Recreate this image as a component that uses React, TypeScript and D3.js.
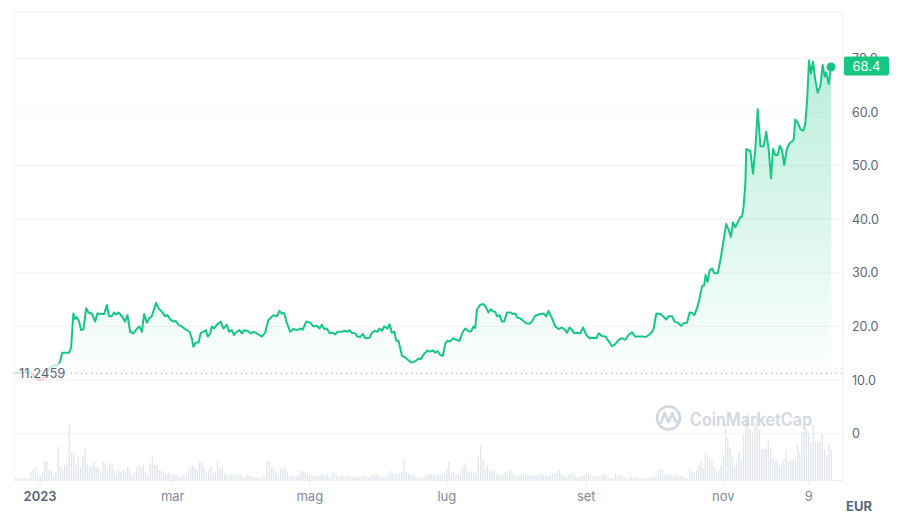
import React, { useEffect, useRef } from "react";
import * as d3 from "d3";

const yearStart = Date.UTC(2023, 0, 1);
const DAY = 864e5;

// price samples: days after 1 Jan 2023 and price in EUR
const priceDays = [
  -11.6, -8.9, -5.8, -4.0, -2.2, -0.4, 1.3, 2.7, 4.0, 6.2,
  8.0, 8.9, 9.8, 12.9, 13.8, 14.8, 15.6, 16.3, 17.4, 18.2,
  19.3, 20.5, 21.5, 23.0, 24.5, 25.5, 27.5, 28.5, 29.7, 30.7,
  31.9, 32.9, 33.8, 34.9, 36.4, 37.8, 38.9, 40.1, 41.5, 43.0,
  44.2, 45.3, 46.3, 47.5, 48.6, 49.7, 51.6, 52.7, 54.2, 55.6,
  56.7, 57.9, 59.3, 60.4, 61.6, 63.1, 64.5, 66.5, 67.5, 68.2,
  69.3, 70.5, 71.5, 72.7, 73.8, 74.6, 75.7, 76.4, 77.4, 78.6,
  80.4, 81.6, 83.1, 84.1, 85.3, 86.3, 87.5, 88.7, 89.8, 90.8,
  92.3, 93.8, 95.2, 96.7, 98.7, 100.1, 101.6, 103.8, 105.4, 106.5,
  107.6, 108.6, 109.8, 111.3, 112.7, 114.3, 115.7, 116.9, 118.4, 120.2,
  121.6, 123.2, 124.3, 125.4, 126.4, 127.6, 128.8, 130.3, 131.3, 132.3,
  134.3, 135.8, 136.8, 137.7, 138.7, 140.2, 141.2, 142.4, 143.6, 144.7,
  146.6, 147.6, 149.1, 150.1, 151.0, 152.1, 153.1, 154.6, 155.5, 156.5,
  157.6, 158.5, 159.5, 161.0, 162.5, 163.9, 165.4, 166.9, 168.4, 169.4,
  170.9, 172.4, 173.6, 174.8, 175.8, 176.8, 178.0, 179.2, 180.3, 181.3,
  182.5, 183.7, 185.2, 186.6, 188.1, 189.2, 190.6, 191.8, 192.9, 193.6,
  194.4, 195.8, 197.0, 198.1, 199.5, 200.6, 201.5, 202.5, 203.3, 204.4,
  205.5, 206.5, 207.7, 209.2, 210.4, 211.4, 212.2, 213.6, 214.8, 216.3,
  217.8, 218.8, 220.3, 222.5, 224.0, 225.2, 226.2, 227.8, 229.2, 230.7,
  232.2, 233.7, 234.4, 235.6, 236.7, 237.7, 239.1, 240.3, 241.6, 243.0,
  244.5, 246.3, 247.5, 248.5, 250.0, 251.5, 252.9, 254.5, 255.9, 257.4,
  258.9, 260.4, 261.8, 263.4, 264.8, 267.1, 268.5, 269.3, 270.8, 272.3,
  273.0, 274.2, 276.0, 277.4, 278.6, 279.7, 281.2, 282.3, 283.7, 285.2,
  286.3, 287.8, 289.0, 290.1, 291.1, 292.3, 293.4, 294.5, 295.5, 296.1,
  297.0, 297.9, 299.0, 300.0, 301.5, 302.7, 304.1, 305.3, 306.4, 307.4,
  308.3, 309.3, 310.5, 311.6, 312.3, 313.0, 313.8, 314.2, 315.3, 316.0,
  317.2, 318.2, 319.3, 320.5, 321.9, 323.1, 324.2, 325.2, 326.1, 327.1,
  328.2, 329.1, 330.1, 331.1, 332.3, 333.5, 334.6, 335.3, 336.0, 337.1,
  338.3, 339.5, 340.4, 341.3, 342.1, 343.0, 343.9, 344.9, 346.0, 347.2,
  348.2, 349.1, 349.8, 350.9, 351.9,
];

const prices = [
  11.25, 11.4, 11.5, 11.3, 10.6, 10.0, 10.1, 10.9, 12.2, 12.8,
  12.8, 13.4, 15.1, 15.1, 16.0, 22.4, 21.4, 21.7, 20.9, 19.3,
  19.5, 23.4, 22.6, 22.4, 20.9, 22.4, 22.3, 22.3, 24.0, 21.9,
  21.9, 22.6, 22.2, 22.6, 21.9, 20.9, 22.1, 19.0, 18.7, 19.5,
  20.0, 19.0, 22.3, 20.7, 21.5, 21.9, 24.4, 23.4, 22.7, 21.9,
  22.1, 21.3, 20.9, 21.0, 20.3, 20.0, 19.5, 19.0, 17.8, 16.2,
  17.0, 17.0, 18.8, 19.0, 19.3, 18.1, 18.7, 20.0, 19.6, 20.3,
  20.9, 19.6, 20.3, 19.0, 19.3, 18.4, 19.0, 19.3, 18.7, 19.3,
  19.2, 18.7, 19.0, 18.6, 18.1, 18.8, 21.2, 22.1, 21.9, 22.9,
  22.4, 22.5, 20.6, 19.0, 19.5, 19.3, 19.6, 19.4, 20.9, 20.7,
  20.0, 20.1, 19.6, 20.3, 19.5, 19.6, 18.7, 18.8, 18.5, 19.0,
  19.0, 19.2, 19.0, 19.3, 18.8, 18.7, 18.1, 18.0, 18.6, 17.8,
  17.9, 18.8, 19.2, 19.0, 19.6, 19.2, 20.0, 19.6, 20.4, 18.8,
  19.0, 17.3, 17.3, 14.5, 14.2, 13.7, 13.2, 13.5, 14.0, 13.9,
  14.9, 15.5, 15.3, 15.5, 15.1, 15.4, 14.7, 14.5, 16.8, 17.3,
  17.2, 17.8, 17.5, 17.3, 19.0, 19.6, 19.1, 19.1, 20.0, 19.7,
  23.2, 24.0, 24.2, 23.8, 22.6, 23.2, 22.8, 22.7, 21.9, 22.1,
  20.9, 20.9, 22.6, 22.6, 22.3, 22.4, 21.7, 21.5, 21.1, 20.6,
  20.5, 20.9, 22.0, 22.3, 22.4, 21.9, 22.9, 21.5, 20.0, 19.5,
  19.8, 19.3, 18.8, 19.8, 19.3, 18.7, 18.8, 18.7, 19.8, 18.4,
  17.8, 17.9, 17.8, 18.7, 18.2, 18.1, 17.3, 16.3, 16.7, 17.5,
  17.8, 17.5, 18.4, 18.9, 18.1, 18.1, 18.1, 18.0, 18.4, 19.0,
  19.6, 22.4, 22.3, 21.8, 21.3, 21.9, 21.9, 20.9, 20.7, 20.1,
  20.6, 20.7, 22.6, 22.5, 22.1, 23.4, 25.2, 27.5, 27.7, 29.6,
  28.3, 30.5, 30.8, 29.9, 29.9, 32.4, 36.1, 39.1, 38.0, 36.7,
  39.4, 38.5, 39.5, 40.4, 40.5, 42.3, 46.7, 53.1, 52.8, 52.8,
  48.5, 52.9, 60.5, 53.6, 53.6, 56.3, 52.9, 47.6, 53.1, 52.0,
  52.0, 53.7, 52.9, 50.1, 53.2, 54.2, 54.5, 54.9, 58.6, 58.0,
  56.8, 56.5, 57.6, 62.3, 69.6, 67.2, 69.4, 66.0, 63.6, 64.9,
  68.8, 66.6, 67.4, 65.2, 68.4,
];

const openPrice = 11.2459;
const lastPrice = 68.4;

// daily volume (relative units), first bar on 21 Dec 2022
const volumeStartDay = -11;
const volumes = [
  5, 4, 5, 4, 5, 3, 6,
  25, 35, 40, 15, 10, 25, 55, 55, 30, 25,
  10, 25, 100, 40, 30, 45, 50, 165, 80, 80,
  45, 70, 40, 70, 95, 50, 45, 40, 55, 40,
  35, 20, 55, 50, 30, 45, 50, 30, 15, 30,
  25, 30, 25, 40, 30, 15, 25, 35, 45, 40,
  45, 25, 15, 50, 72, 45, 45, 30, 28, 25,
  20, 25, 15, 15, 12, 15, 8, 10, 12, 15,
  25, 35, 45, 35, 30, 55, 55, 40, 20, 30,
  40, 20, 25, 55, 35, 38, 20, 15, 12, 15,
  15, 18, 12, 20, 10, 8, 18, 12, 12, 8,
  8, 6, 5, 12, 10, 55, 58, 40, 35, 25,
  15, 38, 35, 38, 25, 12, 10, 12, 12, 15,
  30, 25, 25, 15, 18, 15, 12, 15, 12, 18,
  15, 12, 20, 8,
  25, 20, 15, 10, 15, 12, 10, 15, 12, 8,
  8, 10, 10, 12, 15, 10, 8, 8, 15, 12,
  18, 12, 10, 12, 8, 15, 28, 20, 18, 15,
  20, 25, 60, 20, 18, 15, 18, 12, 10, 8,
  8, 12, 15, 18, 15, 18, 12, 15, 15, 15,
  15, 35, 55, 20, 25, 15, 15, 15, 40, 50,
  30, 20, 25, 20, 25, 70, 105, 60, 30, 45,
  30, 25, 28, 20, 15, 12, 15, 25, 15, 32,
  25, 15, 12, 15, 18, 18, 15, 15, 15, 12,
  15, 12, 22, 18, 15, 12, 10, 15, 18, 20,
  22, 28, 18, 12, 10, 15, 18, 20, 12, 8,
  10, 12, 12, 22, 18, 15, 12, 10, 12, 8,
  12, 18, 15,
  5, 5, 5, 18, 15, 15, 12, 8, 5, 5,
  12, 10, 10, 8, 5, 5, 5, 5, 8, 8,
  12, 10, 28, 32, 30, 18, 15, 18, 12, 8,
  15, 12, 12, 12, 8, 5, 35, 25, 22, 30,
  45, 58, 35, 78, 72, 70, 55, 40, 25, 30,
  45, 75, 168, 125, 95, 70, 40, 50, 85, 60,
  135, 190, 200, 150, 140, 170, 195, 150, 92, 92,
  95, 115, 95, 65, 55, 60, 40, 55, 65, 90,
  55, 60, 62, 62, 105, 80, 145, 145, 155, 140,
  110, 165, 115, 115, 118, 135, 90, 75, 108, 92,
];

const priceTicks = [0, 10, 20, 30, 40, 50, 60, 70];
const timeTicks = ["2023-01-01", "2023-03-01", "2023-05-01", "2023-07-01", "2023-09-01", "2023-11-01", "2023-12-09"];
const timeTickLabels = ["2023", "mar", "mag", "lug", "set", "nov", "9"];

const GREEN = "#16c784";
const RED = "#ea3943";

const toDate = (d: number) => new Date(yearStart + d * DAY);

const App: React.FC = () => {
  const svgRef = useRef<SVGSVGElement>(null);

  useEffect(() => {
    if (!svgRef.current) return;

    const width = 900;
    const height = 524;
    const margin = { top: 12, right: 57, bottom: 44, left: 14 };
    const plotRight = width - margin.right;
    const plotBottom = height - margin.bottom;
    const font = "Inter, 'Noto Sans', sans-serif";

    const svg = d3.select(svgRef.current);
    svg.selectAll("*").remove();
    svg.attr("width", width).attr("height", height).attr("viewBox", `0 0 ${width} ${height}`);

    const data = priceDays.map((d, i) => ({ date: toDate(d), price: prices[i] }));

    const x = d3
      .scaleUtc()
      .domain(d3.extent(data, (d) => d.date) as [Date, Date])
      .range([margin.left, plotRight - 12]);

    const y = d3.scaleLinear().domain([0, 70]).range([433.6, 58.4]);

    const vol = d3.scaleLinear().domain([0, 200]).range([plotBottom, plotBottom - 67]);

    const defs = svg.append("defs");

    const areaGrad = defs
      .append("linearGradient")
      .attr("id", "areaFill")
      .attr("gradientUnits", "userSpaceOnUse")
      .attr("x1", 0)
      .attr("x2", 0)
      .attr("y1", y(70))
      .attr("y2", y(openPrice));
    areaGrad.append("stop").attr("offset", 0).attr("stop-color", GREEN).attr("stop-opacity", 0.3);
    areaGrad.append("stop").attr("offset", 1).attr("stop-color", GREEN).attr("stop-opacity", 0.01);

    // line fades out near the opening price, red below it
    const ya = y(13.3);
    const yb = y(12.9);
    const yc = y(openPrice);
    const ye = y(8);
    const lineGrad = defs
      .append("linearGradient")
      .attr("id", "lineStroke")
      .attr("gradientUnits", "userSpaceOnUse")
      .attr("x1", 0)
      .attr("x2", 0)
      .attr("y1", ya)
      .attr("y2", ye);
    lineGrad.append("stop").attr("offset", 0).attr("stop-color", GREEN).attr("stop-opacity", 1);
    lineGrad.append("stop").attr("offset", (yb - ya) / (ye - ya)).attr("stop-color", GREEN).attr("stop-opacity", 0.3);
    lineGrad.append("stop").attr("offset", (yc - ya) / (ye - ya)).attr("stop-color", GREEN).attr("stop-opacity", 0.25);
    lineGrad.append("stop").attr("offset", (yc - ya) / (ye - ya)).attr("stop-color", RED).attr("stop-opacity", 0.25);
    lineGrad.append("stop").attr("offset", 1).attr("stop-color", RED).attr("stop-opacity", 0.25);

    // frame and grid
    const gridColor = "#f0f2f5";
    svg
      .append("g")
      .selectAll("line")
      .data(priceTicks)
      .join("line")
      .attr("x1", margin.left)
      .attr("x2", plotRight)
      .attr("y1", (d) => y(d))
      .attr("y2", (d) => y(d))
      .attr("stroke", gridColor);
    svg
      .append("line")
      .attr("x1", margin.left)
      .attr("x2", plotRight)
      .attr("y1", margin.top)
      .attr("y2", margin.top)
      .attr("stroke", gridColor);
    svg
      .append("line")
      .attr("x1", margin.left)
      .attr("x2", margin.left)
      .attr("y1", margin.top)
      .attr("y2", plotBottom)
      .attr("stroke", gridColor);
    svg
      .append("line")
      .attr("x1", plotRight)
      .attr("x2", plotRight)
      .attr("y1", margin.top)
      .attr("y2", plotBottom)
      .attr("stroke", "#eceff3");

    // volume bars
    svg
      .append("g")
      .selectAll("rect")
      .data(volumes)
      .join("rect")
      .attr("x", (_, i) => x(toDate(volumeStartDay + i)) - 0.65)
      .attr("width", 1.3)
      .attr("y", (d) => vol(d))
      .attr("height", (d) => plotBottom - vol(d))
      .attr("fill", "#e1e5ec");

    // x axis
    svg
      .append("line")
      .attr("x1", margin.left)
      .attr("x2", plotRight)
      .attr("y1", plotBottom + 0.5)
      .attr("y2", plotBottom + 0.5)
      .attr("stroke", "#eceff3");

    const tickDates = timeTicks.map((t) => new Date(t + "T00:00:00Z"));
    svg
      .append("g")
      .selectAll("line")
      .data(tickDates)
      .join("line")
      .attr("x1", (d) => x(d))
      .attr("x2", (d) => x(d))
      .attr("y1", plotBottom)
      .attr("y2", plotBottom + 5)
      .attr("stroke", "#e3e7ee");
    svg
      .append("g")
      .selectAll("text")
      .data(tickDates)
      .join("text")
      .attr("x", (d) => x(d))
      .attr("y", 501)
      .attr("text-anchor", "middle")
      .attr("font-family", font)
      .attr("font-size", 13)
      .attr("font-weight", (_, i) => (i === 0 ? 600 : 400))
      .attr("fill", (_, i) => (i === 0 ? "#58667e" : "#808a9d"))
      .text((_, i) => timeTickLabels[i]);

    // watermark
    const wm = svg.append("g").attr("opacity", 0.75).attr("fill", "none").attr("stroke", "#c3cbd8");
    wm.append("circle").attr("cx", 668.5).attr("cy", 418).attr("r", 11.5).attr("stroke-width", 2.6);
    wm
      .append("path")
      .attr("d", "M661,423 L664.5,413 L668.5,422 L672.5,413 L675,420 Q676.5,423 679,421")
      .attr("stroke-width", 2.4)
      .attr("stroke-linejoin", "round")
      .attr("stroke-linecap", "round");
    wm
      .append("text")
      .attr("x", 690)
      .attr("y", 425.5)
      .attr("stroke", "none")
      .attr("fill", "#c3cbd8")
      .attr("font-family", font)
      .attr("font-size", 18)
      .attr("font-weight", 600)
      .attr("textLength", 122)
      .attr("lengthAdjust", "spacingAndGlyphs")
      .text("CoinMarketCap");

    // price area and line
    const area = d3
      .area<{ date: Date; price: number }>()
      .x((d) => x(d.date))
      .y0(y(openPrice))
      .y1((d) => y(d.price));
    svg.append("path").datum(data).attr("fill", "url(#areaFill)").attr("d", area);

    // opening price reference
    svg
      .append("line")
      .attr("x1", 71)
      .attr("x2", plotRight)
      .attr("y1", y(openPrice))
      .attr("y2", y(openPrice))
      .attr("stroke", "#9aa2b1")
      .attr("stroke-width", 1)
      .attr("stroke-dasharray", "1 4");

    const line = d3
      .line<{ date: Date; price: number }>()
      .x((d) => x(d.date))
      .y((d) => y(d.price));
    svg
      .append("path")
      .datum(data)
      .attr("fill", "none")
      .attr("stroke", "url(#lineStroke)")
      .attr("stroke-width", 2)
      .attr("stroke-linejoin", "round")
      .attr("d", line);

    svg
      .append("text")
      .attr("x", 19)
      .attr("y", y(openPrice) + 4.5)
      .attr("font-family", font)
      .attr("font-size", 13)
      .attr("fill", "#58667e")
      .text(openPrice.toString());

    const last = data[data.length - 1];
    svg.append("circle").attr("cx", x(last.date)).attr("cy", y(last.price)).attr("r", 4.5).attr("fill", GREEN);

    // y axis labels
    svg
      .append("g")
      .selectAll("text")
      .data(priceTicks)
      .join("text")
      .attr("x", 852)
      .attr("y", (d) => y(d) + 4.5)
      .attr("font-family", font)
      .attr("font-size", 12.5)
      .attr("fill", "#58667e")
      .text((d) => (d === 0 ? "0" : d.toFixed(1)));

    // current price badge
    svg
      .append("rect")
      .attr("x", 844)
      .attr("y", y(lastPrice) - 10.5)
      .attr("width", 45)
      .attr("height", 19)
      .attr("rx", 2)
      .attr("fill", GREEN);
    svg
      .append("text")
      .attr("x", 866.5)
      .attr("y", y(lastPrice) + 3.8)
      .attr("text-anchor", "middle")
      .attr("font-family", font)
      .attr("font-size", 13)
      .attr("fill", "#ffffff")
      .text(lastPrice.toFixed(1));

    svg
      .append("text")
      .attr("x", 846)
      .attr("y", 511)
      .attr("font-family", font)
      .attr("font-size", 13)
      .attr("font-weight", 700)
      .attr("fill", "#58667e")
      .text("EUR");
  }, []);

  return <svg ref={svgRef} style={{ position: "absolute", left: 0, top: 0 }} />;
};

export default App;
